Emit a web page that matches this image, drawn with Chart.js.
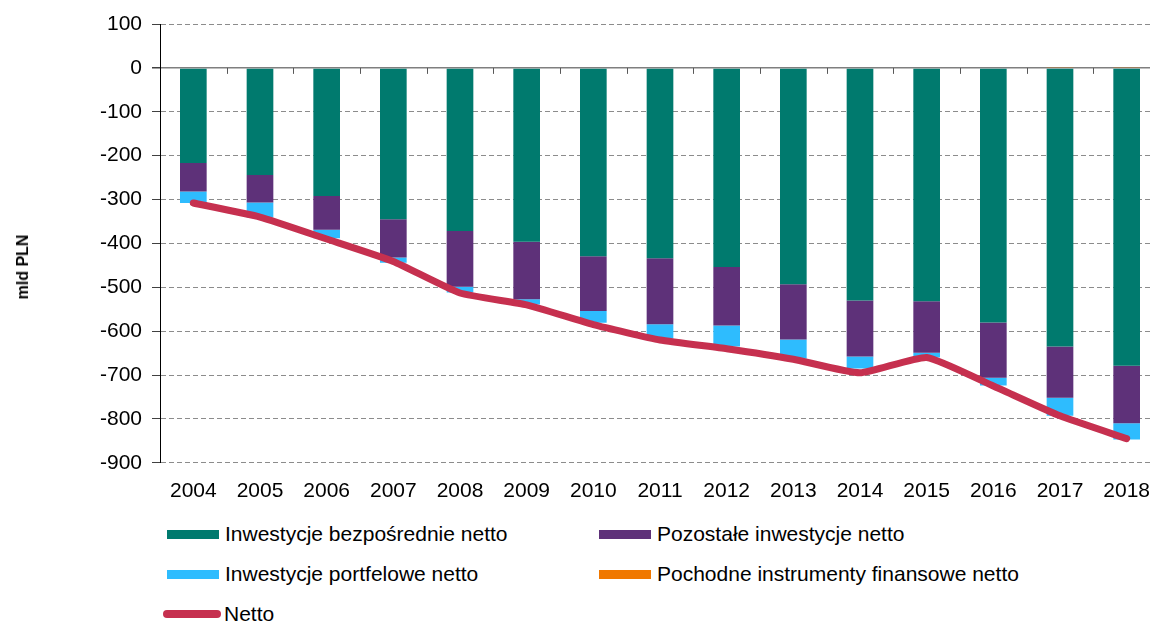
<!DOCTYPE html>
<html lang="pl">
  <head>
    <meta charset="UTF-8" />
    <title>Inwestycje netto</title>
    <style>
      body {
        margin: 0;
        padding: 0;
        width: 1150px;
        height: 622px;
        overflow: hidden;
        background: #ffffff;
        font-family: "Liberation Sans", Arial, sans-serif;
        position: relative;
      }
      #chart {
        position: absolute;
        left: 0;
        top: 0;
      }
      .ytitle {
        position: absolute;
        left: 23px;
        top: 267px;
        transform: translate(-50%, -50%) rotate(-90deg);
        font-weight: bold;
        font-size: 16px;
        white-space: nowrap;
        color: #000;
      }
      .legend-item {
        position: absolute;
        height: 24px;
        display: flex;
        align-items: center;
        font-size: 21px;
        color: #000;
        white-space: nowrap;
      }
      .legend-item .swatch {
        width: 52px;
        height: 9px;
        margin-right: 6px;
      }
      .legend-item .swatch.line {
        width: 58px;
        height: 8px;
        border-radius: 4px;
        margin-left: -4px;
        margin-right: 3px;
      }
    </style>
    <script src="https://cdn.jsdelivr.net/npm/chart.js"></script>
  </head>
  <body>
    <canvas id="chart" width="1170" height="520"></canvas>
    <div class="ytitle">mld PLN</div>
    <div id="legend"></div>
    <script>
      const years = ["2004", "2005", "2006", "2007", "2008", "2009", "2010", "2011",
        "2012", "2013", "2014", "2015", "2016", "2017", "2018"];
      const bezposrednie = [-217, -244, -292, -345, -372, -396, -429, -434, -454, -493, -530, -532, -580, -635, -679];
      const pozostale = [-65, -63, -77, -87, -127, -131, -125, -150, -133, -126, -128, -117, -126, -117, -131];
      const portfelowe = [-26, -34, -19, -12, -13, -12, -27, -33, -48, -44, -27, -11, -18, -41, -37];
      const pochodne = [0, 0, 0, 0, 0, 0, 0, 0, 0, 0, 0, 0, 0, 2, 1];
      const netto = [-308, -340, -390, -441, -513, -540, -585, -620, -640, -664, -695, -660, -725, -793, -845];
      const yTicks = [100, 0, -100, -200, -300, -400, -500, -600, -700, -800, -900];

      // little tick marks on the zero line between the years
      const zeroTicks = {
        id: "zeroTicks",
        afterDatasetsDraw(chart) {
          const x = chart.scales.x;
          const y0 = chart.scales.y.getPixelForValue(0);
          const c = chart.ctx;
          c.save();
          c.strokeStyle = "#595959";
          c.lineWidth = 1;
          for (let i = 1; i <= years.length; i++) {
            const px = x.getPixelForValue(i - 0.5);
            c.beginPath();
            c.moveTo(Math.round(px) + 0.5, y0);
            c.lineTo(Math.round(px) + 0.5, y0 + 6);
            c.stroke();
          }
          c.restore();
        },
      };

      const barOpts = { stack: "s", barPercentage: 0.4, categoryPercentage: 1, order: 1 };
      const datasets = [
        { type: "bar", label: "Inwestycje bezpośrednie netto", data: bezposrednie, backgroundColor: "#007A6E", ...barOpts },
        { type: "bar", label: "Pozostałe inwestycje netto", data: pozostale, backgroundColor: "#5E3179", ...barOpts },
        { type: "bar", label: "Inwestycje portfelowe netto", data: portfelowe, backgroundColor: "#2EBCFE", ...barOpts },
        { type: "bar", label: "Pochodne instrumenty finansowe netto", data: pochodne, backgroundColor: "#F07800", ...barOpts },
        {
          type: "line",
          label: "Netto",
          data: netto,
          stack: "netto",
          borderColor: "#C6304F",
          backgroundColor: "#C6304F",
          borderWidth: 7,
          pointRadius: 0,
          tension: 0.15,
          borderCapStyle: "round",
          borderJoinStyle: "round",
          order: 0,
        },
      ];

      const chart = new Chart(document.getElementById("chart"), {
        data: { labels: years, datasets: datasets },
        plugins: [zeroTicks],
        options: {
          responsive: false,
          animation: false,
          devicePixelRatio: 1,
          layout: { padding: { left: 0, right: 10, top: 24, bottom: 0 } },
          plugins: { legend: { display: false }, tooltip: { enabled: false } },
          scales: {
            x: {
              stacked: true,
              grid: { display: false, drawTicks: false },
              border: { display: false },
              ticks: {
                color: "#000",
                padding: 16,
                maxRotation: 0,
                font: { family: "'Liberation Sans', Arial", size: 21 },
              },
            },
            y: {
              stacked: true,
              min: -900,
              max: 100,
              afterFit(scale) {
                scale.width = 160;
              },
              afterBuildTicks(scale) {
                scale.ticks = yTicks.map((v) => ({ value: v }));
              },
              grid: {
                color: (ctx) => (ctx.tick && ctx.tick.value === 0 ? "#7F7F7F" : "#8C8C8C"),
                lineWidth: (ctx) => (ctx.tick && ctx.tick.value === 0 ? 1.5 : 1),
                tickColor: "#404040",
                tickLength: 8,
              },
              border: {
                display: true,
                color: "#000",
                width: 1,
                dash: (ctx) => (ctx.tick && ctx.tick.value === 0 ? [] : [5, 3]),
              },
              ticks: {
                color: "#000",
                padding: 10,
                font: { family: "'Liberation Sans', Arial", size: 21 },
              },
            },
          },
        },
      });

      // legend built from the chart datasets
      const legendPos = [
        { left: 167, top: 534 },
        { left: 599, top: 534 },
        { left: 167, top: 574 },
        { left: 599, top: 574 },
        { left: 167, top: 614 },
      ];
      const legendOrder = [0, 1, 2, 3, 4];
      const legendEl = document.getElementById("legend");
      legendOrder.forEach((di, k) => {
        const ds = chart.data.datasets[di];
        const item = document.createElement("div");
        item.className = "legend-item";
        item.style.left = legendPos[k].left + "px";
        item.style.top = legendPos[k].top - 12 + "px";
        const sw = document.createElement("span");
        sw.className = ds.type === "line" ? "swatch line" : "swatch";
        sw.style.background = ds.type === "line" ? ds.borderColor : ds.backgroundColor;
        const tx = document.createElement("span");
        tx.textContent = ds.label;
        item.appendChild(sw);
        item.appendChild(tx);
        legendEl.appendChild(item);
      });
    </script>
  </body>
</html>
